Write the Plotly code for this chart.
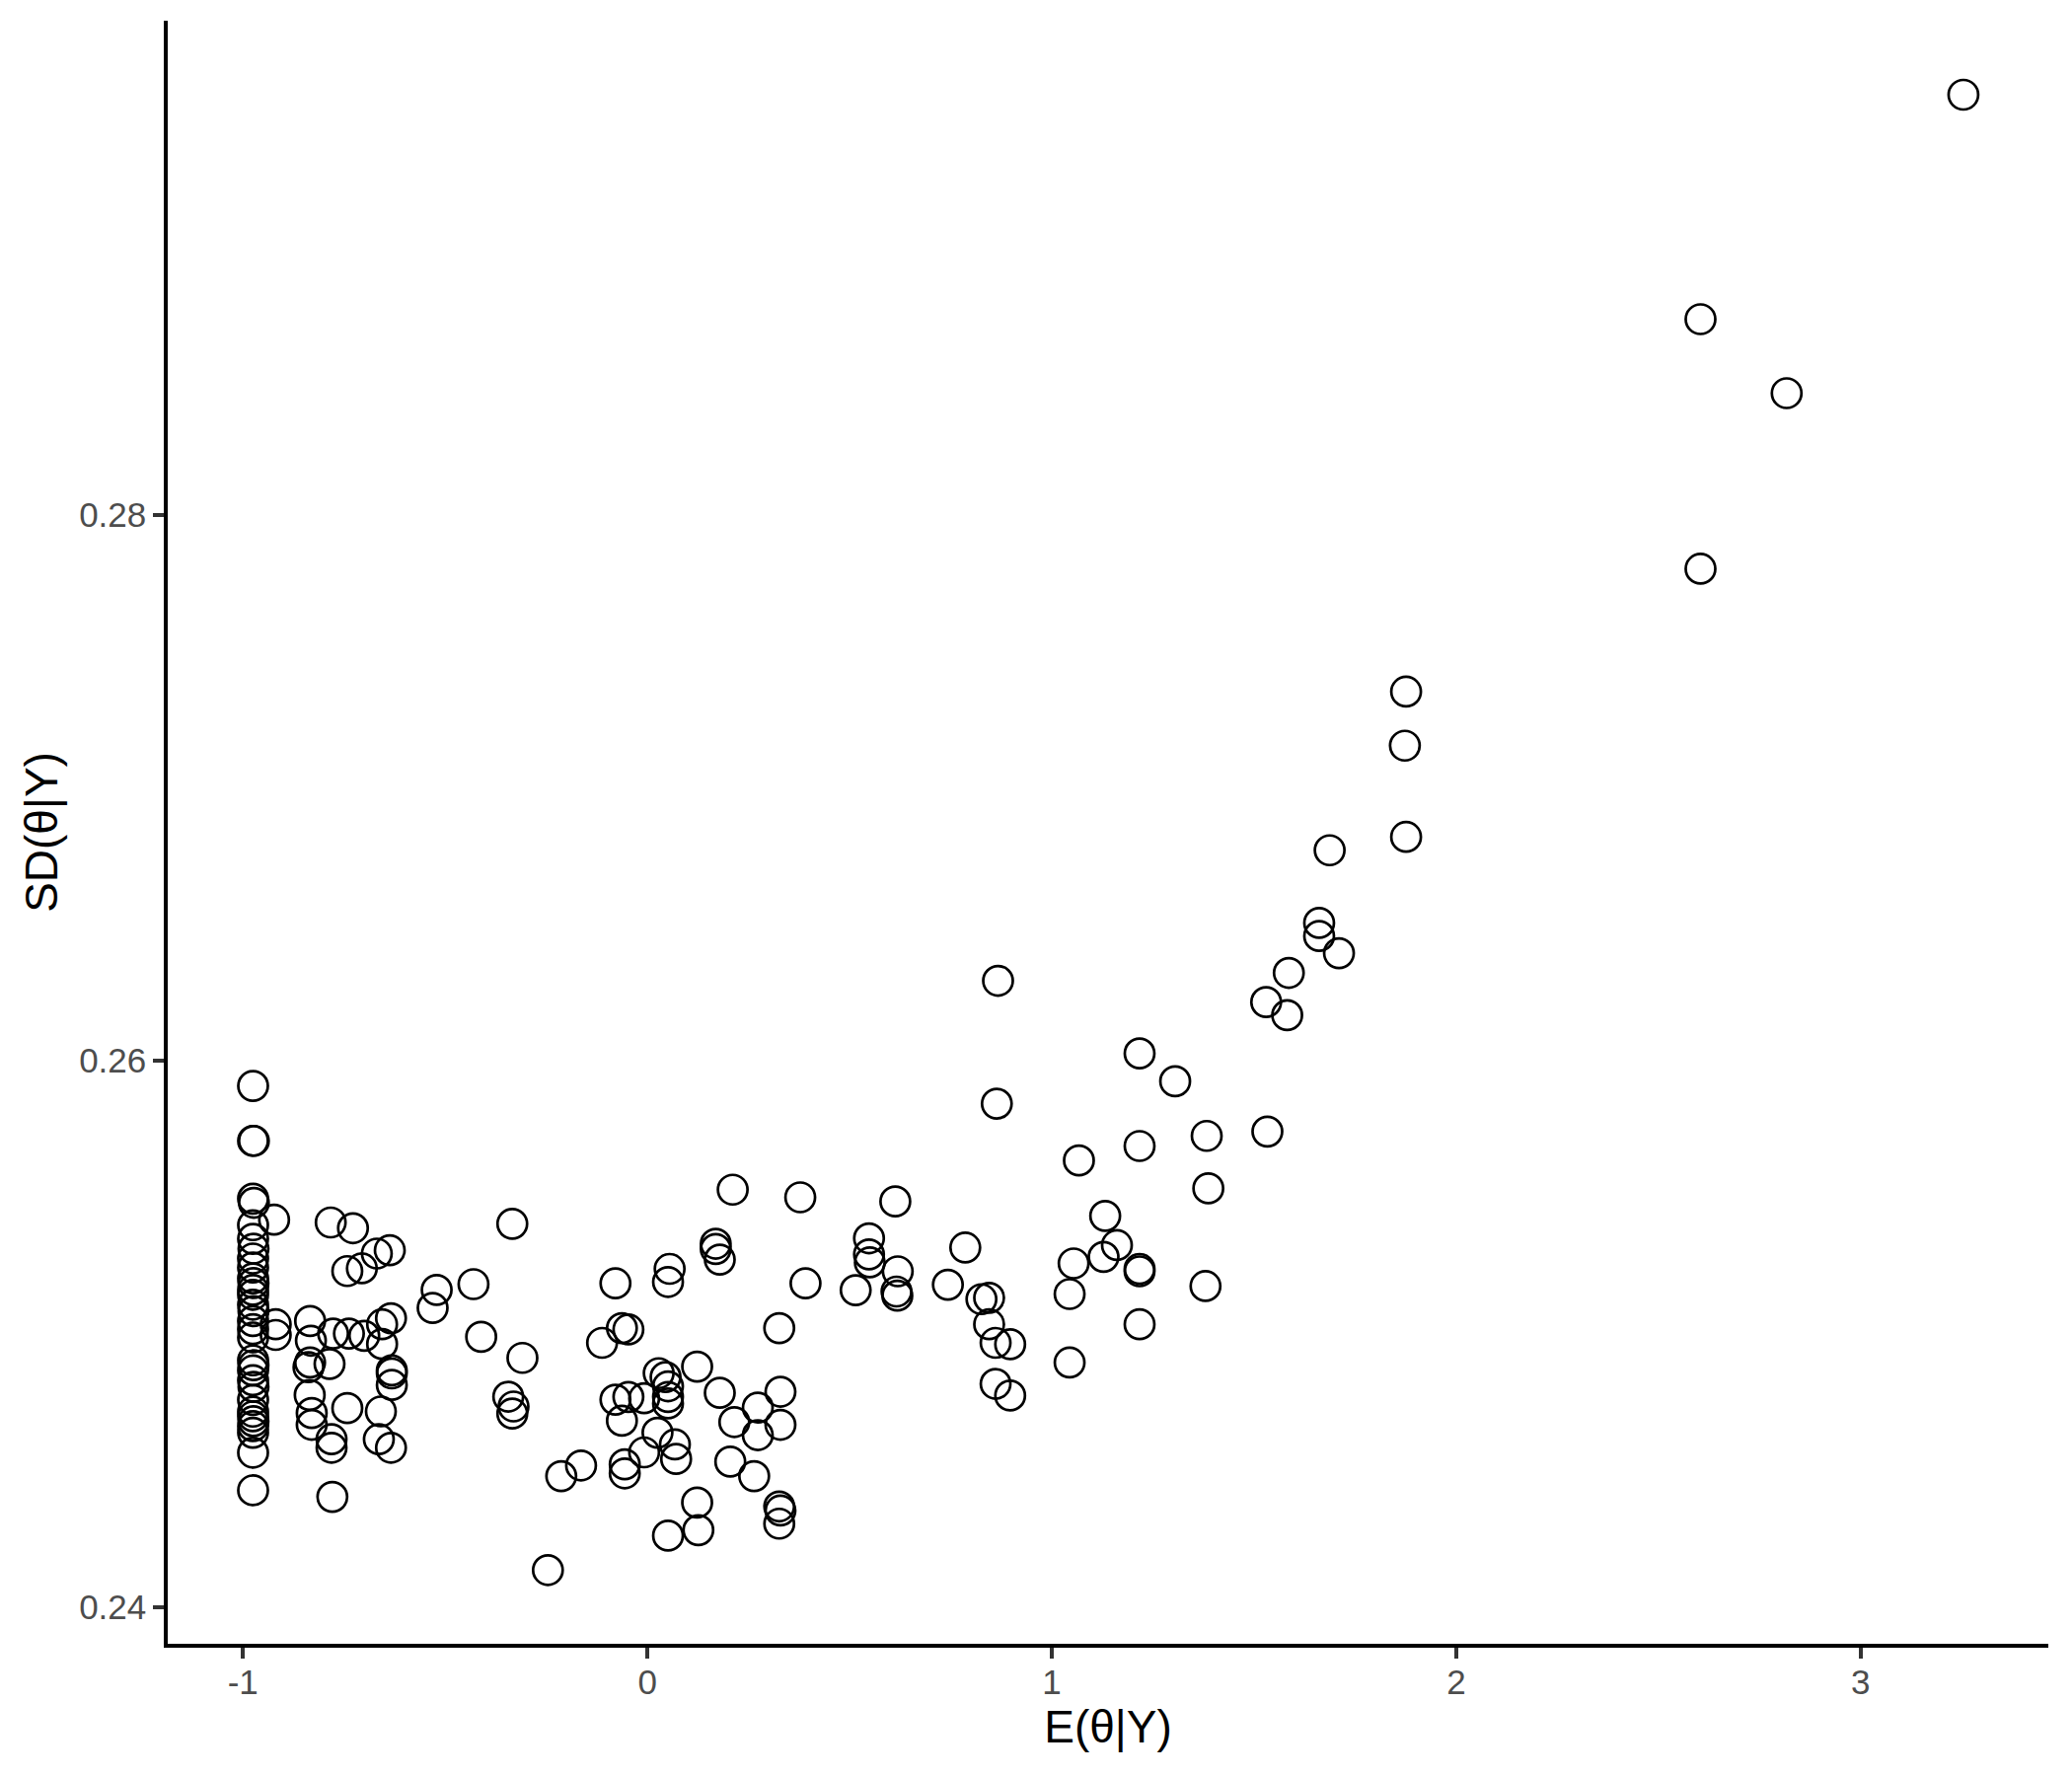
import plotly.graph_objects as go

# ─── Style ───────────────────────────────────────────────────────────────────

FONT = "Liberation Sans, Arial, sans-serif"
TICK_TEXT = "#4D4D4D"
TICK_COLOR = "#333333"

# page body keeps an 8px margin, so the figure is sized to fit inside it
FIG_W, FIG_H = 2092, 1792

# ─── Data: posterior mean vs posterior SD of theta ───────────────────────────

e_theta = [
    # cluster at the lower bound
    -0.975, -0.973, -0.975, -0.975, -0.973, -0.975, -0.975, -0.974, -0.975, -0.975,
    -0.975, -0.974, -0.975, -0.975, -0.975, -0.974, -0.975, -0.975, -0.975, -0.975,
    -0.974, -0.975, -0.975, -0.974, -0.975, -0.975, -0.975, -0.974, -0.975, -0.975,
    -0.975, -0.975,
    -0.923, -0.919, -0.919,
    # -0.85 .. -0.6
    -0.783, -0.728, -0.742, -0.706, -0.669, -0.637,
    -0.834, -0.832, -0.838, -0.834, -0.786, -0.777, -0.738, -0.700, -0.656, -0.634,
    -0.656, -0.632, -0.632, -0.632,
    -0.835, -0.830, -0.830, -0.742, -0.781, -0.781, -0.659, -0.664, -0.634, -0.779,
    # -0.55 .. -0.15
    -0.521, -0.531, -0.430, -0.334, -0.411, -0.309, -0.344, -0.331, -0.334, -0.246,
    -0.213, -0.164,
    # around 0
    -0.079, 0.055, 0.051, -0.063, -0.047, -0.112, 0.123, 0.028, 0.045, 0.051,
    0.051, 0.051, -0.079, -0.047, -0.008, -0.063, 0.025, 0.068, 0.071, -0.008,
    -0.056, -0.056, 0.123, 0.126, 0.051,
    # 0.15 .. 0.4
    0.211, 0.378, 0.169, 0.169, 0.179, 0.391, 0.326, 0.179, 0.215, 0.273,
    0.329, 0.329, 0.273, 0.205, 0.264, 0.326, 0.329, 0.326,
    # 0.5 .. 0.9
    0.613, 0.548, 0.548, 0.550, 0.515, 0.619, 0.616, 0.618, 0.743, 0.786,
    0.826, 0.845, 0.845, 0.861, 0.897, 0.861, 0.897, 0.867, 0.864,
    # 1.0 .. 1.4
    1.044, 1.044, 1.054, 1.067, 1.132, 1.161, 1.128, 1.217, 1.217, 1.217,
    1.217, 1.217, 1.305, 1.383, 1.387, 1.380,
    # upper tail
    1.533, 1.530, 1.582, 1.586, 1.661, 1.661, 1.710, 1.687, 1.876, 1.873,
    1.876, 2.604, 2.604, 2.817, 3.254,
]

sd_theta = [
    0.25908, 0.25707, 0.25707, 0.25495, 0.25480, 0.25398, 0.25348, 0.25312, 0.25276, 0.25243,
    0.25203, 0.25186, 0.25161, 0.25143, 0.25107, 0.25083, 0.25047, 0.25017, 0.24987, 0.24903,
    0.24885, 0.24866, 0.24830, 0.24806, 0.24758, 0.24715, 0.24698, 0.24680, 0.24662, 0.24638,
    0.24565, 0.24427,
    0.25418, 0.25035, 0.24996,
    0.25408, 0.25387, 0.25230, 0.25240, 0.25294, 0.25306,
    0.25047, 0.24975, 0.24878, 0.24895, 0.24890, 0.25001, 0.25001, 0.24993, 0.25035, 0.25057,
    0.24963, 0.24866, 0.24855, 0.24813,
    0.24776, 0.24710, 0.24667, 0.24728, 0.24614, 0.24583, 0.24716, 0.24614, 0.24583, 0.24403,
    0.25161, 0.25095, 0.25182, 0.25403, 0.24989, 0.24912, 0.24770, 0.24734, 0.24708, 0.24135,
    0.24479, 0.24518,
    0.25185, 0.25238, 0.25190, 0.25021, 0.25016, 0.24967, 0.24880, 0.24856, 0.24842, 0.24808,
    0.24769, 0.24745, 0.24759, 0.24769, 0.24764, 0.24682, 0.24638, 0.24595, 0.24542, 0.24566,
    0.24522, 0.24489, 0.24382, 0.24281, 0.24261,
    0.25528, 0.25500, 0.25330, 0.25311, 0.25272, 0.25185, 0.25021, 0.24784, 0.24677, 0.24730,
    0.24788, 0.24667, 0.24629, 0.24532, 0.24479, 0.24368, 0.24353, 0.24305,
    0.25485, 0.25350, 0.25291, 0.25262, 0.25160, 0.25229, 0.25155, 0.25140, 0.25180, 0.25316,
    0.25127, 0.25132, 0.25035, 0.24967, 0.24962, 0.24817, 0.24774, 0.26293, 0.25843,
    0.24895, 0.25146, 0.25258, 0.25635, 0.25432, 0.25325, 0.25282, 0.25238, 0.25229, 0.25035,
    0.25688, 0.26027, 0.25925, 0.25725, 0.25533, 0.25175,
    0.25741, 0.26215, 0.26167, 0.26322, 0.26505, 0.26457, 0.26394, 0.26771, 0.27352, 0.27154,
    0.26820, 0.27802, 0.28716, 0.28445, 0.29538,
]

x_ticks = [-1, 0, 1, 2, 3]
y_ticks = [0.24, 0.26, 0.28]

# ─── Figure ──────────────────────────────────────────────────────────────────

fig = go.Figure(go.Scatter(
    x=e_theta, y=sd_theta, mode="markers",
    marker=dict(symbol="circle-open", size=30, color="black", line=dict(width=2.7)),
    showlegend=False,
))

axis_common = dict(
    showgrid=False, zeroline=False,
    showline=True, linecolor="black", linewidth=3.5,
    ticks="outside", ticklen=11, tickwidth=3.5, tickcolor=TICK_COLOR,
    tickfont=dict(family=FONT, size=35, color=TICK_TEXT),
)

fig.update_layout(
    width=FIG_W, height=FIG_H,
    paper_bgcolor="white", plot_bgcolor="white",
    margin=dict(l=162, r=24, t=13, b=134),
    font=dict(family=FONT, color="black"),
    xaxis=dict(**axis_common, range=[-1.186, 3.464], tickvals=x_ticks,
               ticktext=[str(v) for v in x_ticks], ticklabelstandoff=-6,
               title=dict(text="E(θ|Y)", font=dict(family=FONT, size=46), standoff=4)),
    yaxis=dict(**axis_common, range=[0.23865, 0.29809], tickvals=y_ticks,
               ticktext=[f"{v:.2f}" for v in y_ticks],
               title=dict(text="SD(θ|Y)", font=dict(family=FONT, size=46), standoff=8)),
)

fig.write_html("out.html")
